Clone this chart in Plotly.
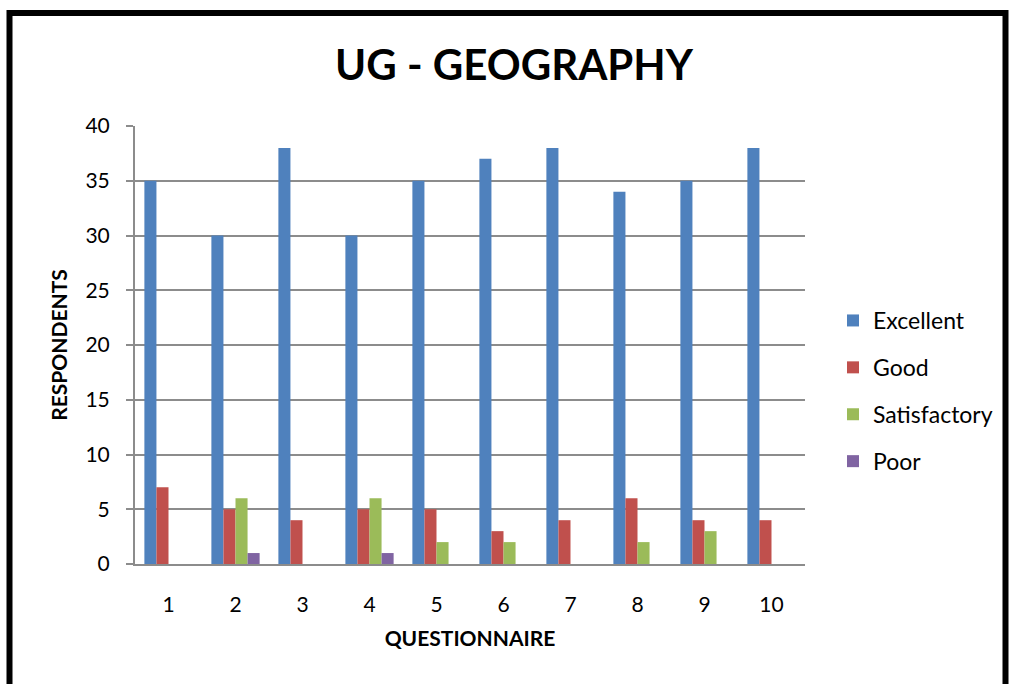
import plotly.graph_objects as go

questions = ["1", "2", "3", "4", "5", "6", "7", "8", "9", "10"]
excellent = [35, 30, 38, 30, 35, 37, 38, 34, 35, 38]
good = [7, 5, 4, 5, 5, 3, 4, 6, 4, 4]
satisfactory = [0, 6, 0, 6, 2, 2, 0, 2, 3, 0]
poor = [0, 1, 0, 1, 0, 0, 0, 0, 0, 0]

series = [
    ("Excellent", excellent, "#4F81BD"),
    ("Good", good, "#C0504D"),
    ("Satisfactory", satisfactory, "#9BBB59"),
    ("Poor", poor, "#8064A2"),
]

FONT = "Lato, 'Open Sans', sans-serif"

fig = go.Figure()
for name, vals, color in series:
    fig.add_trace(go.Bar(
        x=questions, y=vals, name=name, legendgroup=name,
        marker=dict(color=color, line=dict(width=0)),
    ))

L, R, T, B = 135, 207, 126, 120
W, H = 1012, 684
pw, ph = W - L - R, H - T - B

def px_x(p):
    return (p - L) / pw

def px_y(p):
    return (H - B - p) / ph

fig.update_layout(
    width=W, height=H,
    margin=dict(l=L, r=R, t=T, b=B),
    paper_bgcolor="white", plot_bgcolor="white",
    barmode="group", bargap=0.28, bargroupgap=0,
    font=dict(family=FONT, color="black", size=21),
    showlegend=True,
    legend=dict(
        x=px_x(833), xanchor="left", xref="paper", y=px_y(391), yanchor="middle",
        font=dict(size=23, family=FONT), tracegroupgap=14,
        itemwidth=30, bgcolor="rgba(0,0,0,0)",
    ),
    xaxis=dict(
        showgrid=False, showline=True, linecolor="#8C8C8C", linewidth=2,
        ticks="", tickfont=dict(size=21), ticklabelstandoff=21,
        title=dict(text="<b>QUESTIONNAIRE</b>", font=dict(size=21), standoff=16),
    ),
    yaxis=dict(
        range=[0, 40], dtick=5, showgrid=True, gridcolor="#8C8C8C", gridwidth=1.5,
        showline=True, linecolor="#8C8C8C", linewidth=2,
        ticks="outside", ticklen=7, tickcolor="#8C8C8C", tickwidth=1.5,
        tickfont=dict(size=21), ticklabelstandoff=12, zeroline=False,
        title=dict(text="<b>RESPONDENTS</b>", font=dict(size=21), standoff=12),
    ),
    annotations=[dict(
        text="<b>UG - GEOGRAPHY</b>", xref="paper", yref="paper",
        x=px_x(514), y=px_y(64), xanchor="center", yanchor="middle",
        showarrow=False, font=dict(size=42, family=FONT),
    )],
    shapes=[dict(
        type="rect", xref="paper", yref="paper",
        x0=px_x(9.5), x1=px_x(1005.5), y0=px_y(760), y1=px_y(13),
        line=dict(color="black", width=6), fillcolor="rgba(0,0,0,0)", layer="above",
    )],
)

fig.write_html("out.html")
